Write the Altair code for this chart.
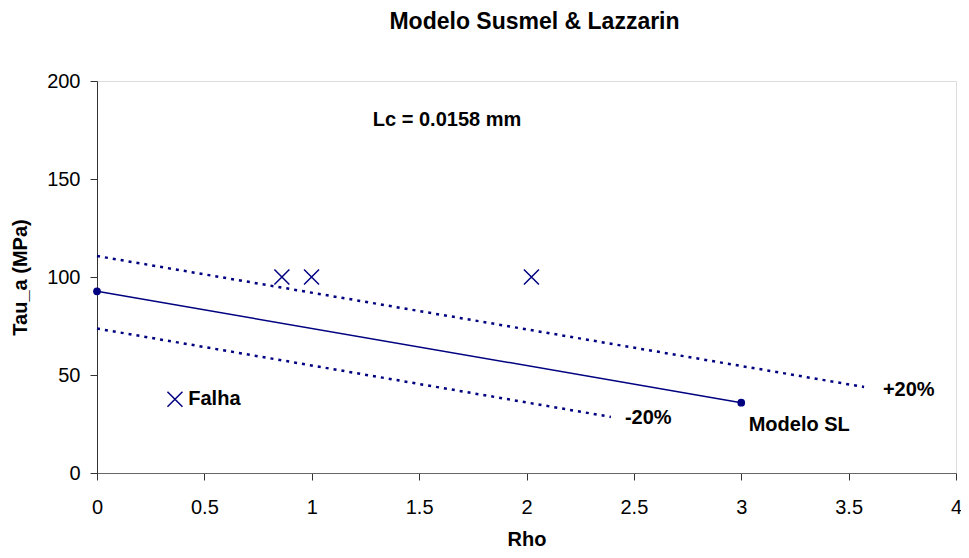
import altair as alt
import pandas as pd

# Data
sl_x = [0.0, 3.0]
sl_y = [92.7, 35.9]
plus_x = [0.0, 3.572]
plus_y = [110.7, 43.9]
minus_x = [0.0, 2.393]
minus_y = [73.7, 28.6]
exp_x = [0.363, 0.861, 0.999, 2.023]
exp_y = [37.6, 100.0, 100.0, 100.0]

ann_text = ["Lc = 0.0158 mm", "Falha", "-20%", "+20%", "Modelo SL"]
ann_x = [1.63, 0.425, 2.567, 3.78, 3.27]
ann_y = [180.0, 37.8, 28.1, 42.4, 24.5]
ann_align = ["center", "left", "center", "center", "center"]

x_ticks = [0, 0.5, 1, 1.5, 2, 2.5, 3, 3.5, 4]
y_ticks = [0, 50, 100, 150, 200]

NAVY = "#000080"
FONT = "Liberation Sans"

xscale = alt.Scale(domain=[0, 4], nice=False, zero=False)
yscale = alt.Scale(domain=[0, 200], nice=False)

xaxis = alt.Axis(values=x_ticks, format="~g", title="Rho",
                 grid=False, tickSize=7, labelPadding=17, titlePadding=12,
                 domainColor="#666666", tickColor="#333333",
                 labelFontSize=20, titleFontSize=20, labelFont=FONT, titleFont=FONT,
                 titleFontWeight="bold", labelColor="black", titleColor="black",
                 labelFlush=False)
yaxis = alt.Axis(values=y_ticks, format="d", title="Tau_a (MPa)",
                 grid=False, tickSize=7, labelPadding=10, titlePadding=16,
                 domainColor="#333333", tickColor="#333333",
                 labelFontSize=20, titleFontSize=20, labelFont=FONT, titleFont=FONT,
                 titleFontWeight="bold", labelColor="black", titleColor="black",
                 labelFlush=False)

sl_df = pd.DataFrame({"x": sl_x, "y": sl_y})
plus_df = pd.DataFrame({"x": plus_x, "y": plus_y})
minus_df = pd.DataFrame({"x": minus_x, "y": minus_y})
exp_df = pd.DataFrame({"x": exp_x, "y": exp_y})
ann_df = pd.DataFrame({"t": ann_text, "x": ann_x, "y": ann_y, "a": ann_align})

base_x = alt.X("x:Q", scale=xscale, axis=xaxis)
base_y = alt.Y("y:Q", scale=yscale, axis=yaxis)

sl_line = alt.Chart(sl_df).mark_line(color=NAVY, strokeWidth=1.5).encode(x=base_x, y=base_y)
sl_pts = alt.Chart(sl_df).mark_circle(color=NAVY, opacity=1, size=60).encode(x="x:Q", y="y:Q")
plus_line = alt.Chart(plus_df).mark_line(color=NAVY, strokeWidth=2.5, strokeDash=[3, 5]).encode(x="x:Q", y="y:Q")
minus_line = alt.Chart(minus_df).mark_line(color=NAVY, strokeWidth=2.5, strokeDash=[3, 5]).encode(x="x:Q", y="y:Q")
exp_pts = alt.Chart(exp_df).mark_point(
    color=NAVY, filled=False, opacity=1, size=225, strokeWidth=1.5,
    shape="M-1,-1L1,1M-1,1L1,-1"
).encode(x="x:Q", y="y:Q")

ann_left = alt.Chart(ann_df[ann_df.a == "left"]).mark_text(
    align="left", baseline="middle", font=FONT, fontSize=20, fontWeight="bold", color="black"
).encode(x="x:Q", y="y:Q", text="t:N")
ann_center = alt.Chart(ann_df[ann_df.a == "center"]).mark_text(
    align="center", baseline="middle", font=FONT, fontSize=20, fontWeight="bold", color="black"
).encode(x="x:Q", y="y:Q", text="t:N")

chart = alt.layer(plus_line, minus_line, sl_line, sl_pts, exp_pts, ann_left, ann_center).properties(
    width=859, height=392,
    title=alt.TitleParams("Modelo Susmel & Lazzarin", font=FONT, fontSize=23,
                          fontWeight="bold", color="black", anchor="middle", offset=37, dx=8),
    autosize=alt.AutoSizeParams(type="none"),
    padding={"left": 89, "top": 73, "right": 5, "bottom": 77},
).configure_view(stroke=None).configure(background="white")

chart.save("out.html", embed_options={"renderer": "svg", "actions": False})
